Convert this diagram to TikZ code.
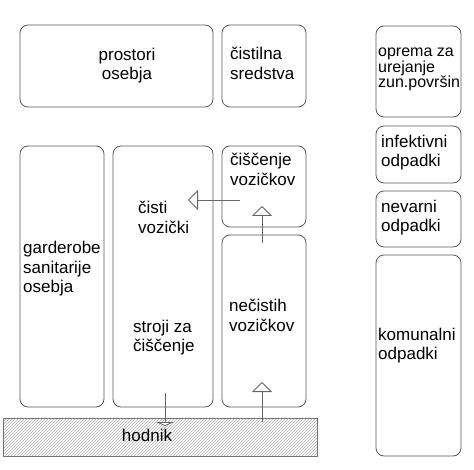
\documentclass[tikz,border=0pt]{standalone}
\usepackage{fontspec}
\setmainfont{Liberation Sans}
\usetikzlibrary{arrows.meta}
\usetikzlibrary{patterns}

\begin{document}
\begin{tikzpicture}[x=1pt, y=-1pt,
    room/.style={draw=black!65, line width=0.8pt, rounded corners=8pt, inner sep=0pt},
    txt/.style={anchor=base west, align=left, inner sep=0pt, font=\fontsize{17}{19.5}\selectfont},
    flow/.style={draw=black!60, line width=0.8pt, -{Triangle[open, length=10pt, width=20pt, fill=white]}}]
      \useasboundingbox (0,0) rectangle (474,470);

      \node[room, minimum width=193pt, minimum height=82pt] (prostori) at (116.5,66) {};
      \node[room, minimum width=84pt, minimum height=82pt] (cistila) at (264,66) {};
      \node[room, minimum width=85pt, minimum height=91pt] (oprema) at (418.5,71.5) {};
      \node[room, minimum width=85pt, minimum height=57pt] (infektivni) at (418.5,154.5) {};
      \node[room, minimum width=85pt, minimum height=56pt] (nevarni) at (418.5,219) {};
      \node[room, minimum width=85pt, minimum height=201pt] (komunalni) at (418.5,355.5) {};
      \node[room, minimum width=84pt, minimum height=261pt] (garderobe) at (62,276.5) {};
      \node[room, minimum width=100pt, minimum height=261pt] (vozicki) at (163,276.5) {};
      \node[room, minimum width=84pt, minimum height=81pt] (ciscenje) at (264,186.5) {};
      \node[room, minimum width=84pt, minimum height=172pt] (necisti) at (264,321) {};
      \node[draw=black!55, pattern=north east lines, pattern color=black!30, inner sep=0pt,
            minimum width=314pt, minimum height=38pt] (hodnik) at (160,437) {};

      % base of a text node is the baseline of its last line
      \node[txt, align=center, anchor=base] (t-prostori) at (127,80) {prostori\\osebja};
      \node[txt] (t-cistila) at (230,79.5) {čistilna\\sredstva};
      \node[txt, font=\fontsize{16}{13.5}\selectfont] (t-oprema) at (378,88) {oprema za\\urejanje\\zun.površin};
      \node[txt] (t-infektivni) at (381,167) {infektivni\\odpadki};
      \node[txt] (t-nevarni) at (381,232) {nevarni\\odpadki};
      \node[txt] (t-ciscenje) at (230,185.5) {čiščenje\\vozičkov};
      \node[txt] (t-cisti) at (138,233.5) {čisti\\vozički};
      \node[txt] (t-garderobe) at (23,293) {garderobe\\sanitarije\\osebja};
      \node[txt] (t-stroji) at (133,352) {stroji za\\čiščenje};
      \node[txt] (t-necisti) at (229,331) {nečistih\\vozičkov};
      \node[txt] (t-komunalni) at (378,359.5) {komunalni\\odpadki};
      \node[txt, anchor=base] (t-hodnik) at (147,441) {hodnik};

      \coordinate (c1) at (240,200);
      \coordinate (c2) at (188,200);
      \coordinate (c3) at (262,243);
      \coordinate (c4) at (262,206);
      \coordinate (c5) at (262,422);
      \coordinate (c6) at (262,382);
      \coordinate (c7) at (165,393);
      \coordinate (c8) at (165,426);

      \draw[flow] (c1) -- (c2);
      \draw[flow] (c3) -- (c4);
      \draw[flow] (c5) -- (c6);
      \draw[flow, -{Triangle[open, length=4pt, width=18pt, fill=white]}] (c7) -- (c8);
    \end{tikzpicture}
\end{document}
